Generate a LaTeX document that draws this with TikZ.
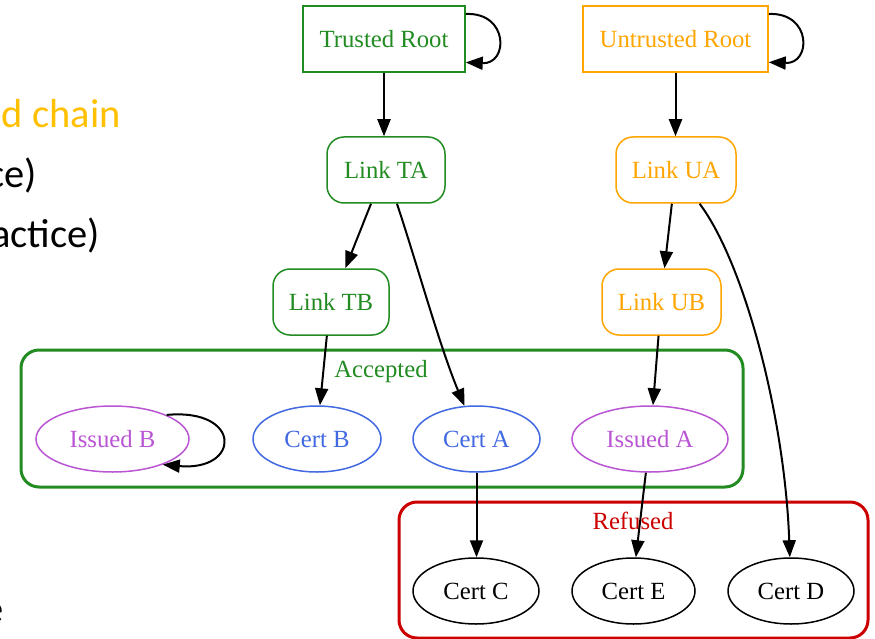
\documentclass[tikz,border=0pt]{standalone}
\usepackage{fontspec}
\setmainfont{Liberation Serif}
\newfontfamily\slidefont{Carlito}
\usetikzlibrary{arrows.meta,shapes.geometric}

\definecolor{trustgreen}{HTML}{228B22}
\definecolor{untrustorange}{HTML}{FFA500}
\definecolor{slidegold}{HTML}{FFC000}
\definecolor{refusedred}{HTML}{CC0000}
\definecolor{certblue}{HTML}{4169E1}
\definecolor{issuedpurple}{HTML}{BA55D3}

\tikzset{
  gvfont/.style={font=\fontsize{24.7}{30}\selectfont},
  rootbox/.style={gvfont, draw, line width=1.5pt, fill=white, rectangle,
    minimum height=66pt, inner sep=0pt},
  linkbox/.style={gvfont, draw, line width=1.5pt, fill=white, rectangle,
    rounded corners=17pt, minimum height=66pt, inner sep=0pt},
  certnode/.style={gvfont, draw, line width=1.5pt, fill=white, ellipse,
    minimum height=66pt, inner sep=0pt},
  cluster/.style={line width=3pt, rounded corners=18pt},
  edge/.style={line width=2pt, -{Triangle[length=17pt,width=13pt]}},
  slidetext/.style={font=\slidefont\fontsize{40.5}{48}\selectfont, inner sep=0pt,
    anchor=base east},
}

\begin{document}
\begin{tikzpicture}[x=1pt,y=-1pt]
\useasboundingbox (0,0) rectangle (875,639);
\clip (0,0) rectangle (875,639);
\fill[white] (0,0) rectangle (875,639);

% slide text behind the graph
\node[slidetext, text=slidegold] (st1) at (121,128) {d chain};
\node[slidetext] (st2) at (37,188) {ce)};
\node[slidetext] (st3) at (100,247) {actice)};
\node[slidetext] (st4) at (4,622) {e};

% clusters
\draw[cluster, trustgreen] (21,350) rectangle (743,487);
\node[gvfont, text=trustgreen, anchor=base] (accl) at (381,377) {Accepted};
\draw[cluster, refusedred] (399,502) rectangle (868,638);
\node[gvfont, text=refusedred, anchor=base] (refl) at (633,529) {Refused};

% roots
\node[rootbox, draw=trustgreen, text=trustgreen, minimum width=162pt] (tr) at (384,39) {Trusted Root};
\node[rootbox, draw=untrustorange, text=untrustorange, minimum width=185pt] (ur) at (675.5,39) {Untrusted Root};

% links
\node[linkbox, draw=trustgreen, text=trustgreen, minimum width=118pt] (lta) at (386,170) {Link TA};
\node[linkbox, draw=untrustorange, text=untrustorange, minimum width=120pt] (lua) at (676,170) {Link UA};
\node[linkbox, draw=trustgreen, text=trustgreen, minimum width=116pt] (ltb) at (331,302) {Link TB};
\node[linkbox, draw=untrustorange, text=untrustorange, minimum width=119pt] (lub) at (661.5,302) {Link UB};

% accepted certificates
\node[certnode, draw=issuedpurple, text=issuedpurple, minimum width=153pt] (ib) at (112.5,439) {Issued B};
\node[certnode, draw=certblue, text=certblue, minimum width=128pt] (cb) at (317,439) {Cert B};
\node[certnode, draw=certblue, text=certblue, minimum width=127pt] (ca) at (476.5,439) {Cert A};
\node[certnode, draw=issuedpurple, text=issuedpurple, minimum width=156pt] (ia) at (650,439) {Issued A};

% refused certificates
\node[certnode, minimum width=126pt] (cc) at (476,591) {Cert C};
\node[certnode, minimum width=123pt] (ce) at (633.5,591) {Cert E};
\node[certnode, minimum width=126pt] (cd) at (791,591) {Cert D};

% edges
\draw[edge] (tr.17) .. controls +(43,-2) and +(43,2) .. (tr.-16);
\draw[edge] (ur.15) .. controls +(43,-2) and +(43,2) .. (ur.-14);
\draw[edge] (tr.south) -- (tr.south |- lta.north);
\draw[edge] (ur.south) -- (ur.south |- lua.north);
\draw[edge] (lta.246) -- (ltb.67);
\draw[edge] (lta.288) .. controls +(20,60) and +(-25,-60) .. (ca.110);
\draw[edge] (lua.263) -- (lub.85);
\draw[edge] (lua.305) .. controls +(45,60) and +(-5,-140) .. (cd.92);
\draw[edge] (ltb.263) -- (cb.85);
\draw[edge] (lub.265) -- (ia.85);
\draw[edge] (ib.24) .. controls +(76,-7) and +(78,7) .. (ib.-27);
\draw[edge] (ca.south) -- (ca.south |- cc.north);
\draw[edge] (ia.263) -- (ce.86);
\end{tikzpicture}
\end{document}
